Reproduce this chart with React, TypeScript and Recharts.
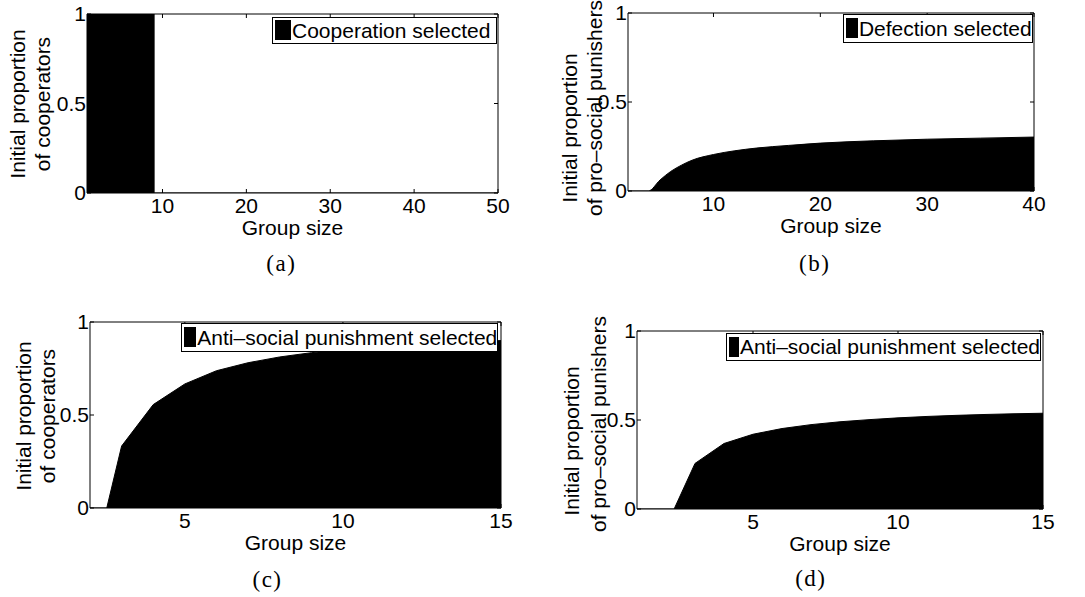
import React from 'react';
import { AreaChart, Area, XAxis, YAxis, Legend } from 'recharts';

// ---------- data ----------
// (a) Cooperation selected
const groupSizesA = [1, 9, 50];
const proportionA = [1, 0, 0];
const xTicksA = [10, 20, 30, 40, 50];

// (b) Defection selected
const groupSizesB = [2, 3.9, 5, 6, 7, 8, 10, 12, 14, 17, 20, 25, 30, 35, 40];
const proportionB = [0, 0, 0.062, 0.11, 0.145, 0.173, 0.205, 0.226, 0.241, 0.256, 0.269, 0.282, 0.291, 0.297, 0.303];
const xTicksB = [10, 20, 30, 40];

// (c) Anti-social punishment selected (cooperators)
const groupSizesC = [2, 2.53, 3, 4, 5, 6, 7, 8, 9, 10, 11, 12, 13, 14, 15];
const proportionC = [0, 0, 0.333, 0.556, 0.667, 0.738, 0.781, 0.812, 0.835, 0.852, 0.866, 0.877, 0.886, 0.894, 0.9];
const xTicksC = [5, 10, 15];

// (d) Anti-social punishment selected (pro-social punishers)
const groupSizesD = [1, 2, 2.28, 3, 4, 5, 6, 7, 8, 9, 10, 11, 12, 13, 14, 15];
const proportionD = [0, 0, 0, 0.256, 0.368, 0.42, 0.452, 0.474, 0.49, 0.502, 0.512, 0.52, 0.526, 0.531, 0.535, 0.538];
const xTicksD = [5, 10, 15];

const yTicks = [0, 0.5, 1];

const FONT = '"Liberation Sans", Arial, Helvetica, sans-serif';
const SERIF = '"Liberation Serif", "DejaVu Serif", serif';

const toData = (xs: number[], ys: number[]) => xs.map((x, i) => ({ x, y: ys[i] }));

type PanelProps = {
  left: number;
  top: number;
  W: number;
  H: number;
  plot: { l: number; t: number; r: number; b: number };
  data: { x: number; y: number }[];
  xDomain: [number, number];
  xTicks: number[];
  curve: any;
  legendText: string;
  legendBox: { l: number; t: number; w: number; h: number };
  yLines: { text: string; x: number; y: number }[];
  caption: string;
  captionPos: { x: number; y: number };
};

const Panel = (p: PanelProps) => {
  const tickStyle = { fontSize: 21, fill: '#000', fontFamily: FONT };
  const lineStyle = { stroke: '#000', strokeWidth: 1 };
  return (
    <div style={{ position: 'absolute', left: p.left, top: p.top, width: p.W, height: p.H }}>
      <AreaChart
        width={p.W}
        height={p.H}
        data={p.data}
        margin={{ top: 0, right: 0, bottom: 0, left: 0 }}
        style={{ fontFamily: FONT }}
      >
        <XAxis
          dataKey="x"
          type="number"
          domain={p.xDomain}
          ticks={p.xTicks}
          interval={0}
          allowDataOverflow
          height={p.H - p.plot.b}
          tickSize={-4}
          tickMargin={9}
          axisLine={lineStyle}
          tickLine={lineStyle}
          tick={tickStyle}
          label={{
            content: (props: any) => {
              const vb = props.viewBox || {};
              return (
                <text
                  x={vb.x + vb.width / 2}
                  y={vb.y + 42}
                  textAnchor="middle"
                  fontSize={21}
                  fill="#000"
                  fontFamily={FONT}
                >
                  Group size
                </text>
              );
            },
          }}
        />
        <XAxis
          xAxisId="top"
          orientation="top"
          dataKey="x"
          type="number"
          domain={p.xDomain}
          ticks={p.xTicks}
          interval={0}
          allowDataOverflow
          height={p.plot.t}
          tickSize={-4}
          axisLine={lineStyle}
          tickLine={lineStyle}
          tickFormatter={() => ''}
        />
        <YAxis
          type="number"
          domain={[0, 1]}
          ticks={yTicks}
          interval={0}
          allowDataOverflow
          width={p.plot.l}
          tickSize={-4}
          tickMargin={5}
          axisLine={lineStyle}
          tickLine={lineStyle}
          tick={tickStyle}
          label={{
            content: () => (
              <g>
                {p.yLines.map((ln, i) => (
                  <text
                    key={i}
                    transform={`translate(${ln.x},${ln.y}) rotate(-90)`}
                    textAnchor="middle"
                    dominantBaseline="central"
                    fontSize={21}
                    fill="#000"
                    fontFamily={FONT}
                  >
                    {ln.text}
                  </text>
                ))}
              </g>
            ),
          }}
        />
        <YAxis
          yAxisId="right"
          orientation="right"
          type="number"
          domain={[0, 1]}
          ticks={yTicks}
          interval={0}
          allowDataOverflow
          width={p.W - p.plot.r}
          tickSize={-4}
          axisLine={lineStyle}
          tickLine={lineStyle}
          tickFormatter={() => ''}
        />
        <Area
          dataKey="y"
          name={p.legendText}
          type={p.curve}
          fill="#000"
          fillOpacity={1}
          stroke="#000"
          strokeWidth={1}
          dot={false}
          activeDot={false}
          isAnimationActive={false}
        />
        <Legend
          layout="vertical"
          align="center"
          verticalAlign="middle"
          wrapperStyle={{
            position: 'absolute',
            left: p.legendBox.l,
            top: p.legendBox.t,
            width: p.legendBox.w,
            height: p.legendBox.h,
            margin: 0,
          }}
          content={(props: any) => {
            const label = props.payload && props.payload[0] ? props.payload[0].value : p.legendText;
            return (
              <div
                style={{
                  boxSizing: 'border-box',
                  width: p.legendBox.w,
                  height: p.legendBox.h,
                  border: '1px solid #000',
                  background: '#fff',
                  display: 'flex',
                  alignItems: 'center',
                  paddingLeft: 2,
                  fontFamily: FONT,
                  fontSize: 21,
                  lineHeight: 1,
                  color: '#000',
                  whiteSpace: 'nowrap',
                  overflow: 'hidden',
                }}
              >
                <span style={{ display: 'inline-block', width: 16, height: 20, background: '#000', marginRight: 1 }} />
                <span>{label}</span>
              </div>
            );
          }}
        />
      </AreaChart>
      <div
        style={{
          position: 'absolute',
          left: p.captionPos.x,
          top: p.captionPos.y,
          transform: 'translate(-50%, -50%)',
          fontFamily: SERIF,
          fontSize: 23,
          letterSpacing: 1.5,
          lineHeight: 1,
          color: '#000',
          whiteSpace: 'nowrap',
        }}
      >
        {p.caption}
      </div>
    </div>
  );
};

export default function App() {
  return (
    <div
      style={{
        position: 'absolute',
        left: 0,
        top: 0,
        width: 1085,
        height: 597,
        background: '#fff',
        overflow: 'hidden',
      }}
    >
      <Panel
        left={0}
        top={0}
        W={540}
        H={290}
        plot={{ l: 87, t: 14, r: 498, b: 193 }}
        data={toData(groupSizesA, proportionA)}
        xDomain={[1, 50]}
        xTicks={xTicksA}
        curve="stepAfter"
        legendText="Cooperation selected"
        legendBox={{ l: 272, t: 16.5, w: 225, h: 27 }}
        yLines={[
          { text: 'Initial proportion', x: 17.5, y: 104 },
          { text: 'of cooperators', x: 42.5, y: 104 },
        ]}
        caption="(a)"
        captionPos={{ x: 281.3, y: 262.5 }}
      />
      <Panel
        left={540}
        top={0}
        W={545}
        H={290}
        plot={{ l: 88, t: 13, r: 494, b: 191 }}
        data={toData(groupSizesB, proportionB)}
        xDomain={[2, 40]}
        xTicks={xTicksB}
        curve="monotone"
        legendText="Defection selected"
        legendBox={{ l: 302.7, t: 13.5, w: 190, h: 29 }}
        yLines={[
          { text: 'Initial proportion', x: 29, y: 128 },
          { text: 'of pro\u2013social punishers', x: 54, y: 108 },
        ]}
        caption="(b)"
        captionPos={{ x: 274.7, y: 262.5 }}
      />
      <Panel
        left={0}
        top={290}
        W={540}
        H={307}
        plot={{ l: 90, t: 32, r: 501, b: 218 }}
        data={toData(groupSizesC, proportionC)}
        xDomain={[2, 15]}
        xTicks={xTicksC}
        curve="linear"
        legendText={'Anti\u2013social punishment selected'}
        legendBox={{ l: 180.7, t: 33.3, w: 317.6, h: 28.4 }}
        yLines={[
          { text: 'Initial proportion', x: 23, y: 126 },
          { text: 'of cooperators', x: 47.5, y: 126 },
        ]}
        caption="(c)"
        captionPos={{ x: 267.5, y: 289 }}
      />
      <Panel
        left={540}
        top={290}
        W={545}
        H={307}
        plot={{ l: 97, t: 41, r: 503, b: 219 }}
        data={toData(groupSizesD, proportionD)}
        xDomain={[1, 15]}
        xTicks={xTicksD}
        curve="linear"
        legendText={'Anti\u2013social punishment selected'}
        legendBox={{ l: 186, t: 43.3, w: 315, h: 27.4 }}
        yLines={[
          { text: 'Initial proportion', x: 31.7, y: 151 },
          { text: 'of pro\u2013social punishers', x: 58, y: 134 },
        ]}
        caption="(d)"
        captionPos={{ x: 270.8, y: 288 }}
      />
    </div>
  );
}
